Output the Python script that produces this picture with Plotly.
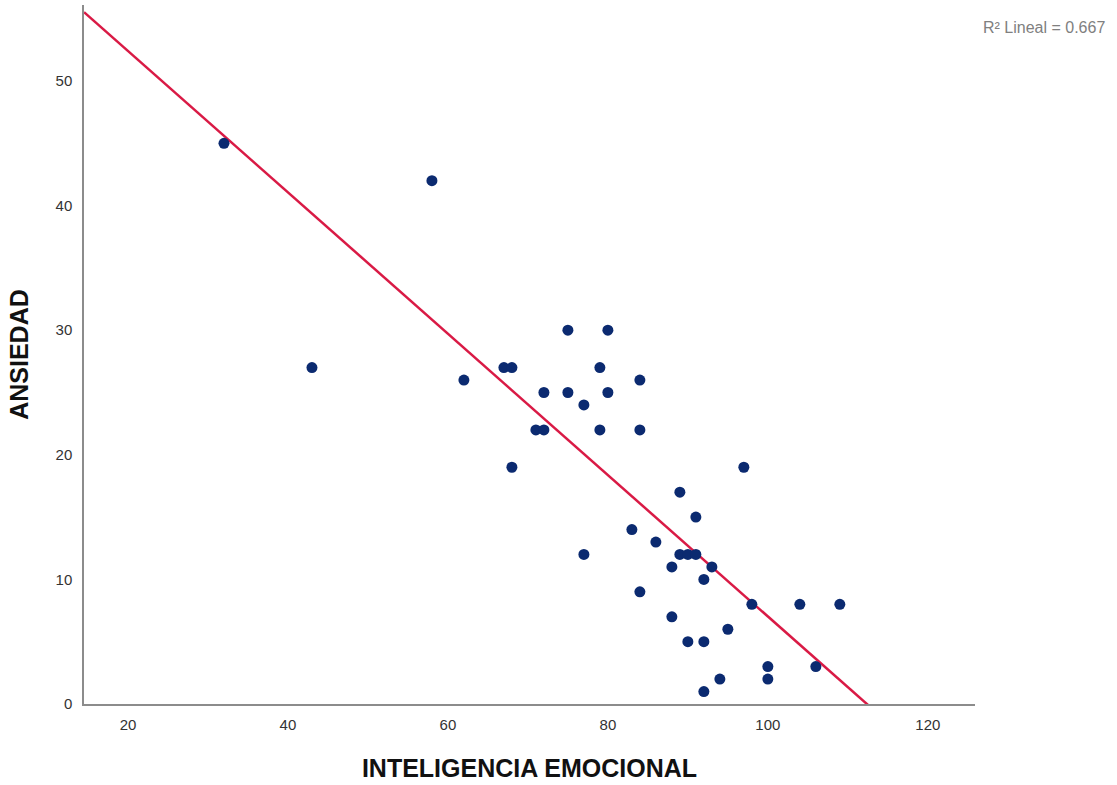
import numpy as np
import plotly.graph_objects as go

# INTELIGENCIA EMOCIONAL (x) and ANSIEDAD (y)
inteligencia = [32, 58, 43, 62, 67, 68, 72, 71, 72, 68, 75, 80, 79, 75, 80, 77, 84, 79, 84,
                97, 89, 91, 83, 86, 89, 90, 91, 77, 88, 93, 92, 84, 98, 104, 109, 88, 95,
                90, 92, 100, 106, 100, 94, 92]
ansiedad = [45, 42, 27, 26, 27, 27, 25, 22, 22, 19, 30, 30, 27, 25, 25, 24, 26, 22, 22,
            19, 17, 15, 14, 13, 12, 12, 12, 12, 11, 11, 10, 9, 8, 8, 8, 7, 6,
            5, 5, 3, 3, 2, 2, 1]
x_ticks = [20, 40, 60, 80, 100, 120]
y_ticks = [0, 10, 20, 30, 40, 50]
r2_label = "R² Lineal = 0.667"

x_range = [14.5, 125.9]
y_range = [0, 56.1]

slope, intercept = np.polyfit(inteligencia, ansiedad, 1)
fit_x = np.array(x_range)
fit_y = intercept + slope * fit_x

fig = go.Figure()
fig.add_trace(go.Scatter(
    x=fit_x, y=fit_y, mode="lines",
    line=dict(color="#d91a45", width=2.5), hoverinfo="skip", showlegend=False))
fig.add_trace(go.Scatter(
    x=inteligencia, y=ansiedad, mode="markers",
    marker=dict(color="#0b2a70", size=11, line=dict(width=0)),
    showlegend=False))

axis_common = dict(showgrid=False, zeroline=False, showline=True, linecolor="#8c8c8c",
                   linewidth=1.5, ticks="",
                   tickfont=dict(family="Liberation Sans, Arial", size=15, color="#333333"))
fig.update_xaxes(range=x_range, tickvals=x_ticks, ticklabelstandoff=6, **axis_common,
                 title=dict(text="<b>INTELIGENCIA EMOCIONAL</b>",
                            font=dict(family="Liberation Sans, Arial", size=25, color="#111111"),
                            standoff=28))
fig.update_yaxes(range=y_range, tickvals=y_ticks, ticklabelstandoff=7, **axis_common,
                 title=dict(text="<b>ANSIEDAD</b>",
                            font=dict(family="Liberation Sans, Arial", size=25, color="#111111"),
                            standoff=20))

fig.add_annotation(text=r2_label, xref="paper", yref="paper", x=(1107 - 84) / 891, y=1.0 - 22 / 699,
                   xanchor="right", yanchor="middle", showarrow=False,
                   font=dict(family="Liberation Sans, Arial", size=16, color="#808080"))

fig.update_layout(width=1117, height=785, plot_bgcolor="white", paper_bgcolor="white",
                  margin=dict(l=84, r=142, t=5, b=81))
fig.write_html("out.html", config={"displayModeBar": False},
               post_script="document.body.style.margin='0';")
